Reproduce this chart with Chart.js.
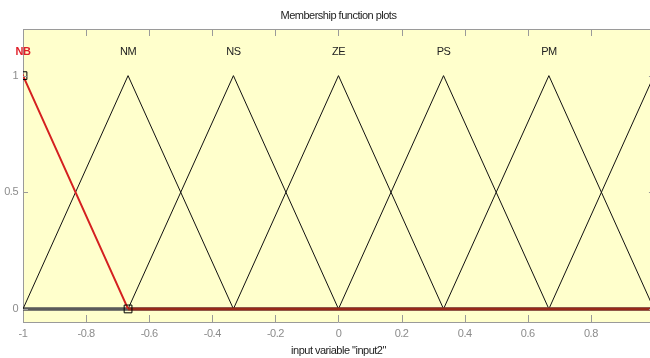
<!DOCTYPE html>
<html>
<head>
<meta charset="utf-8">
<script src="https://cdn.jsdelivr.net/npm/chart.js@4.4.1/dist/chart.umd.min.js"></script>
<style>
  html, body { margin: 0; padding: 0; background: #fff; overflow: hidden; }
  #mfChart { display: block; }
</style>
</head>
<body>
<canvas id="mfChart" width="662" height="358"></canvas>
<script>
// --- Data ---
const mfLabels = ['NB', 'NM', 'NS', 'ZE', 'PS', 'PM', 'PB'];
const mfLeft = [-1.333, -1, -0.667, -0.333, 0, 0.333, 0.667];
const mfPeak = [-1, -0.667, -0.333, 0, 0.333, 0.667, 1];
const mfRight = [-0.667, -0.333, 0, 0.333, 0.667, 1, 1.333];
const xRange = [-1, 1];
const xTicks = [-1, -0.8, -0.6, -0.4, -0.2, 0, 0.2, 0.4, 0.6, 0.8, 1];
const yTicks = [0, 0.5, 1];
const selectedMf = 0;

const FONT = "'Liberation Sans', Arial, sans-serif";
const AXIS_GREY = '#9a9a9a';
const LABEL_GREY = '#8c8c8c';

document.addEventListener('DOMContentLoaded', function () {

    // each MF plotted across the whole input range, zero outside its support
    function mfPoints(i) {
        const pts = [];
        if (mfLeft[i] > xRange[0]) pts.push({ x: xRange[0], y: 0 });
        pts.push({ x: mfLeft[i], y: 0 });
        pts.push({ x: mfPeak[i], y: 1 });
        pts.push({ x: mfRight[i], y: 0 });
        if (mfRight[i] < xRange[1]) pts.push({ x: xRange[1], y: 0 });
        return pts;
    }

    function isFlat(ctx) {
        return ctx.p0.parsed.y === 0 && ctx.p1.parsed.y === 0;
    }

    const datasets = [];

    // square handles on the selected MF
    datasets.push({
        label: 'handles',
        data: [
            { x: mfPeak[selectedMf], y: 1 },
            { x: mfRight[selectedMf], y: 0 }
        ],
        showLine: false,
        pointStyle: 'rect',
        pointRadius: 5.5,
        borderWidth: 1,
        borderColor: '#000',
        backgroundColor: 'rgba(0,0,0,0)'
    });

    mfLabels.forEach(function (name, i) {
        const sel = i === selectedMf;
        datasets.push({
            label: name,
            data: mfPoints(i),
            borderColor: sel ? '#d42020' : '#111',
            borderWidth: sel ? 2 : 1,
            pointRadius: 0,
            tension: 0,
            segment: {
                borderWidth: function (ctx) {
                    if (!isFlat(ctx)) return undefined;
                    return sel ? 3 : 2.5;
                },
                borderColor: function (ctx) {
                    if (!isFlat(ctx)) return undefined;
                    return sel ? '#982818' : '#5a5a5a';
                }
            }
        });
    });

    // pale yellow plot area; tighter lettering for the condensed look
    const plotBackground = {
        id: 'plotBackground',
        beforeDraw(chart) {
            const { ctx, chartArea: a } = chart;
            ctx.letterSpacing = '-0.5px';
            ctx.save();
            ctx.fillStyle = '#ffffcc';
            ctx.fillRect(a.left, a.top, a.right - a.left, a.bottom - a.top);
            ctx.restore();
        }
    };

    // inward tick marks on all sides
    const innerTicks = {
        id: 'innerTicks',
        afterDraw(chart) {
            const { ctx, chartArea: a, scales } = chart;
            const len = 7;
            ctx.save();
            ctx.strokeStyle = AXIS_GREY;
            ctx.lineWidth = 1;
            ctx.beginPath();
            xTicks.forEach(function (v) {
                const px = Math.round(scales.x.getPixelForValue(v)) + 0.5;
                ctx.moveTo(px, a.bottom);
                ctx.lineTo(px, a.bottom - len);
                ctx.moveTo(px, a.top);
                ctx.lineTo(px, a.top + len);
            });
            yTicks.forEach(function (v) {
                const py = Math.round(scales.y.getPixelForValue(v)) + 0.5;
                ctx.moveTo(a.left, py);
                ctx.lineTo(a.left + len - 2, py);
                ctx.moveTo(a.right, py);
                ctx.lineTo(a.right - len + 2, py);
            });
            ctx.stroke();
            ctx.restore();
        }
    };

    // MF names above each peak (skipped when they would fall off the page)
    const mfNames = {
        id: 'mfNames',
        afterDatasetsDraw(chart) {
            const { ctx, scales } = chart;
            const visibleWidth = document.documentElement.clientWidth;
            ctx.save();
            ctx.textAlign = 'center';
            ctx.textBaseline = 'middle';
            mfLabels.forEach(function (name, i) {
                const sel = i === selectedMf;
                const xv = Math.min(Math.max(mfPeak[i], xRange[0]), xRange[1]);
                const px = scales.x.getPixelForValue(xv);
                ctx.font = (sel ? 'bold ' : '') + '11px ' + FONT;
                if (px + ctx.measureText(name).width / 2 > visibleWidth) return;
                ctx.fillStyle = sel ? '#e0202a' : '#222';
                ctx.fillText(name, px, scales.y.getPixelForValue(1.1));
            });
            ctx.restore();
        }
    };

    const ctx = document.getElementById('mfChart').getContext('2d');
    new Chart(ctx, {
        type: 'line',
        data: { datasets: datasets },
        plugins: [plotBackground, innerTicks, mfNames],
        options: {
            responsive: false,
            animation: false,
            devicePixelRatio: 1,
            layout: { padding: { left: 0, right: 6, top: 0, bottom: 0 } },
            plugins: {
                legend: { display: false },
                tooltip: { enabled: false }
            },
            scales: {
                x: {
                    type: 'linear',
                    position: 'bottom',
                    min: xRange[0],
                    max: xRange[1],
                    afterBuildTicks: function (s) { s.ticks = xTicks.map(function (v) { return { value: v }; }); },
                    afterFit: function (s) { s.height = 36; },
                    grid: { display: false, drawTicks: false },
                    border: { display: true, color: AXIS_GREY, width: 1 },
                    ticks: {
                        color: LABEL_GREY,
                        padding: 5,
                        maxRotation: 0,
                        autoSkip: false,
                        font: { family: FONT, size: 11 },
                        callback: function (v) { return String(Math.round(v * 10) / 10); }
                    },
                    title: {
                        display: true,
                        text: 'input variable "input2"',
                        color: '#222',
                        font: { family: FONT, size: 11 },
                        padding: { top: 0, bottom: 0 }
                    }
                },
                xTop: {
                    type: 'linear',
                    position: 'top',
                    min: xRange[0],
                    max: xRange[1],
                    afterFit: function (s) { s.height = 29; },
                    grid: { display: false, drawTicks: false },
                    border: { display: true, color: AXIS_GREY, width: 1 },
                    ticks: { display: false },
                    title: {
                        display: true,
                        text: 'Membership function plots',
                        color: '#222',
                        font: { family: FONT, size: 11 },
                        padding: { top: 9, bottom: 0 }
                    }
                },
                y: {
                    type: 'linear',
                    min: -0.056,
                    max: 1.2,
                    afterBuildTicks: function (s) { s.ticks = yTicks.map(function (v) { return { value: v }; }); },
                    afterFit: function (s) { s.width = 23; },
                    grid: { display: false, drawTicks: false },
                    border: { display: true, color: AXIS_GREY, width: 1 },
                    ticks: {
                        color: LABEL_GREY,
                        padding: 5,
                        font: { family: FONT, size: 11 },
                        callback: function (v) { return String(v); }
                    }
                }
            }
        }
    });
});
</script>
</body>
</html>
